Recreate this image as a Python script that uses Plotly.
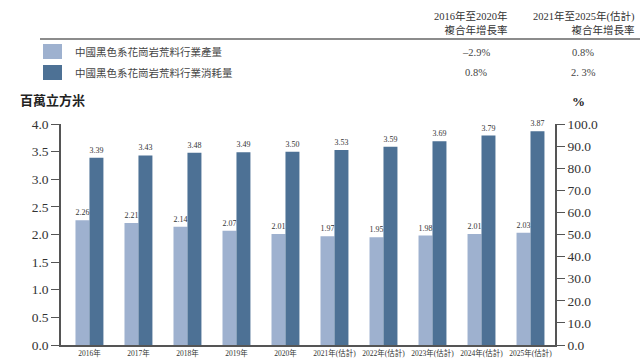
import plotly.graph_objects as go

categories = ["2016年", "2017年", "2018年", "2019年", "2020年",
              "2021年(估計)", "2022年(估計)", "2023年(估計)", "2024年(估計)", "2025年(估計)"]
production = [2.26, 2.21, 2.14, 2.07, 2.01, 1.97, 1.95, 1.98, 2.01, 2.03]
consumption = [3.39, 3.43, 3.48, 3.49, 3.50, 3.53, 3.59, 3.69, 3.79, 3.87]
series_names = ["中國黑色系花崗岩荒料行業產量", "中國黑色系花崗岩荒料行業消耗量"]
cagr_headers = ["2016年至2020年<br>複合年增長率", "2021年至2025年(估計)<br>複合年增長率"]
cagr_values = [["–2.9%", "0.8%"], ["0.8%", "2. 3%"]]
left_ticks = [0.0, 0.5, 1.0, 1.5, 2.0, 2.5, 3.0, 3.5, 4.0]
right_ticks = [0, 10, 20, 30, 40, 50, 60, 70, 80, 90, 100]

LIGHT = "#9eb1cf"
DARK = "#4d7195"
FONT = "Liberation Serif, Noto Sans CJK TC, serif"

W, H = 640, 362
L, R, T, B = 61, 555, 124, 345


def px(x):
    return (x - L) / (R - L)


def py(y):
    return (B - y) / (B - T)


fig = go.Figure()
fig.add_trace(go.Bar(x=categories, y=production, name=series_names[0], marker_color=LIGHT,
                     marker_line_width=0, text=[f"{v:.2f}" for v in production],
                     textposition="outside", textfont=dict(size=8, color="#333", family=FONT),
                     cliponaxis=False))
fig.add_trace(go.Bar(x=categories, y=consumption, name=series_names[1], marker_color=DARK,
                     marker_line_width=0, text=[f"{v:.2f}" for v in consumption],
                     textposition="outside", textfont=dict(size=8, color="#333", family=FONT),
                     cliponaxis=False))
fig.add_trace(go.Scatter(x=[categories[0]], y=[None], yaxis="y2", showlegend=False,
                         hoverinfo="skip"))

fig.update_layout(
    width=W, height=H,
    margin=dict(l=L, r=W - R, t=T, b=H - B),
    plot_bgcolor="white", paper_bgcolor="white",
    barmode="group", bargap=0.43, bargroupgap=0,
    showlegend=False,
    font=dict(family=FONT, color="#333"),
    xaxis=dict(type="category", showline=True, linecolor="#555", linewidth=1.5,
               ticks="", tickfont=dict(size=7.5, color="#333"), showgrid=False,
               automargin=False),
    yaxis=dict(range=[0, 4.0], tickvals=left_ticks, ticktext=[f"{v:.1f}" for v in left_ticks],
               showline=True, linecolor="#555", linewidth=1.5, ticks="outside",
               ticklen=8, tickcolor="#555", tickwidth=1.2, automargin=False,
               tickfont=dict(size=13.5, color="#333"), showgrid=False, zeroline=False),
    yaxis2=dict(range=[0, 100], tickvals=right_ticks, ticktext=[f"{v:.1f}" for v in right_ticks],
                overlaying="y", side="right", showline=True, linecolor="#555", linewidth=1.5,
                ticks="outside", ticklen=8, tickcolor="#555", tickwidth=1.2, automargin=False,
                tickfont=dict(size=13.5, color="#333"), showgrid=False, zeroline=False),
)

shapes = [
    dict(type="line", xref="paper", yref="paper", x0=px(40), x1=px(640), y0=py(39), y1=py(39),
         line=dict(color="#666", width=1.5)),
    dict(type="rect", xref="paper", yref="paper", x0=px(43), x1=px(62), y0=py(44), y1=py(59),
         fillcolor=LIGHT, line_width=0),
    dict(type="rect", xref="paper", yref="paper", x0=px(43), x1=px(62), y0=py(65), y1=py(80),
         fillcolor=DARK, line_width=0),
]
fig.update_layout(shapes=shapes)

ann = []
ann.append(dict(text=cagr_headers[0], x=px(510), y=py(23), xanchor="right", yanchor="middle",
                align="right", font=dict(size=10.5, color="#333")))
ann.append(dict(text=cagr_headers[1], x=px(637), y=py(23), xanchor="right", yanchor="middle",
                align="right", font=dict(size=10.5, color="#333")))
for i, name in enumerate(series_names):
    yc = 52 + i * 21
    ann.append(dict(text=name, x=px(73), y=py(yc), xanchor="left", yanchor="middle",
                    font=dict(size=10.5, color="#444")))
    ann.append(dict(text=cagr_values[i][0], x=px(476), y=py(yc), xanchor="center", yanchor="middle",
                    font=dict(size=10.5, color="#444")))
    ann.append(dict(text=cagr_values[i][1], x=px(583), y=py(yc), xanchor="center", yanchor="middle",
                    font=dict(size=10.5, color="#444")))
ann.append(dict(text="<b>百萬立方米</b>", x=px(18), y=py(101), xanchor="left", yanchor="middle",
                font=dict(size=13, color="#222")))
ann.append(dict(text="<b>%</b>", x=px(578), y=py(102), xanchor="center", yanchor="middle",
                font=dict(size=13, color="#222")))
for a in ann:
    a.update(xref="paper", yref="paper", showarrow=False)
fig.update_layout(annotations=ann)

fig.write_html("out.html", config={"displayModeBar": False},
               post_script="document.body.style.margin='0';")
